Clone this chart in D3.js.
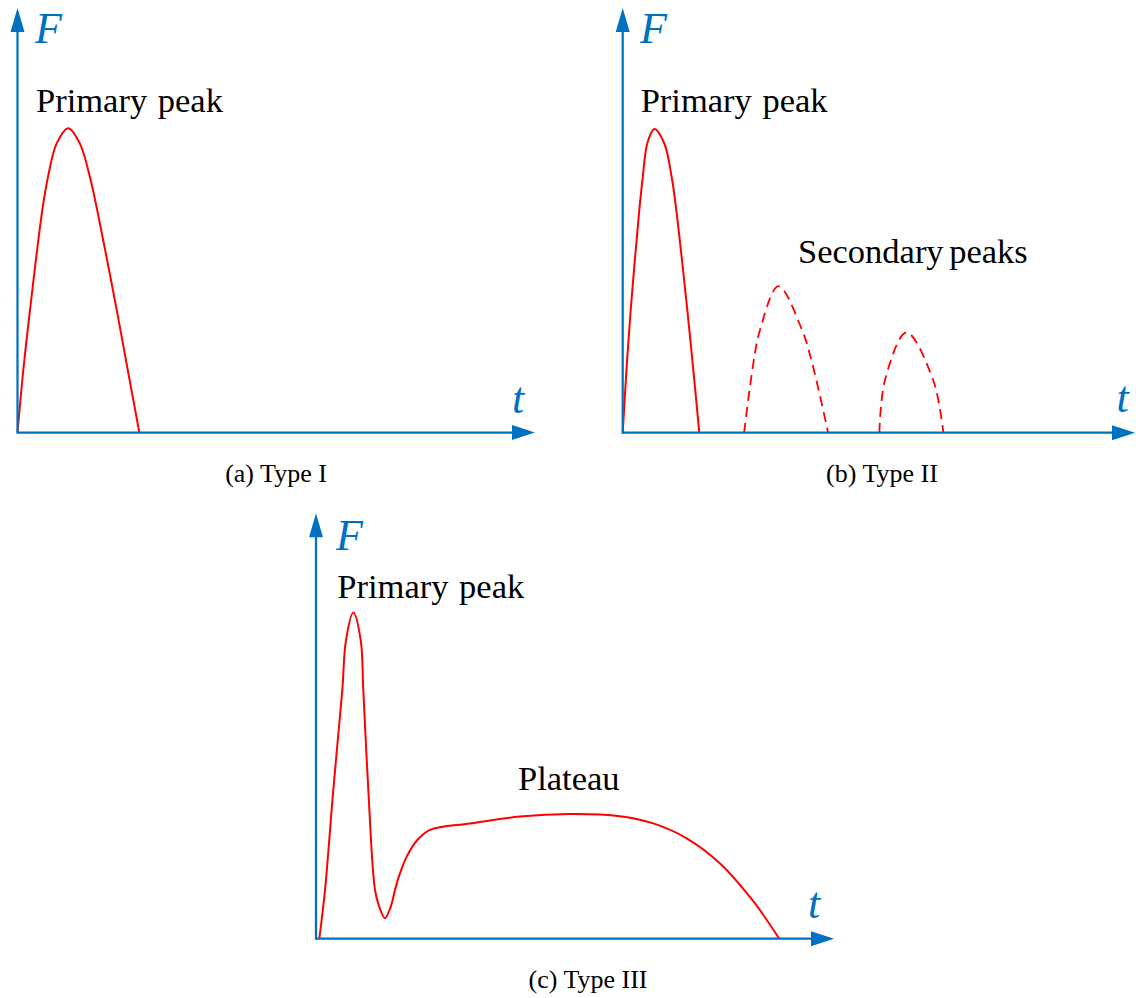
<!DOCTYPE html>
<html>
<head>
<meta charset="utf-8">
<script src="https://cdn.jsdelivr.net/npm/d3@7"></script>
<style>
  body { margin: 0; background: #fff; }
  svg { display: block; }
</style>
</head>
<body>
<div id="chart"></div>
<script>
// normalised time / force values (0-100 along each axis)
var typeI_t = [0, 1.12, 2.42, 4.79, 5.89, 7.57, 9.82, 12.04, 13.99, 15.40, 19.17, 21.31, 23.54];
var typeI_F = [0, 14.7, 28.9, 52.4, 60.2, 68.1, 71.7, 68.1, 60.2, 52.4, 28.9, 14.7, 0];

var typeII_t = [0, 0.74, 1.56, 3.24, 3.92, 4.80, 6.17, 8.12, 9.56, 10.46, 12.61, 13.78, 14.95];
var typeII_F = [0, 14.8, 28.9, 52.4, 60.2, 68.1, 71.5, 68.1, 60.2, 52.4, 28.9, 14.8, 0];

var second1_t = [23.7, 25.5, 26.8, 30.4, 35.0, 37.0, 40.1];
var second1_F = [0, 16.3, 24.2, 34.5, 24.2, 16.3, 0];

var second2_t = [50.1, 51.2, 55.4, 60.6, 62.6];
var second2_F = [0, 12.4, 23.6, 12.4, 0];

var typeIII_t = [0.64, 1.74, 3.34, 5.08, 5.79, 7.20, 8.63, 9.13, 10.10, 11.39, 12.22, 13.32, 14.42, 15.25,
                 16.22, 17.51, 19.56, 22.01, 29.73, 39.38, 49.03, 58.69, 65.12, 71.56, 78.0, 84.23, 89.44];
var typeIII_F = [0, 11.45, 35.0, 58.5, 70.2, 76.7, 70.2, 58.5, 35.0, 11.45, 7.5, 4.8, 7.5, 11.45,
                 15.4, 19.3, 23.2, 25.6, 27.1, 28.7, 29.3, 28.8, 27.1, 23.6, 17.7, 9.1, 0];

var axisLabels = ["F", "t"];
var captions = ["(a) Type I", "(b) Type II", "(c) Type III"];
var notes = ["Primary peak", "Secondary peaks", "Plateau"];

var zip = function(ts, fs){ return ts.map(function(t, i){ return [t, fs[i]]; }); };

// panel layout (pixels)
var panels = [
  { ox: 17.5, oy: 432.5, lenX: 517.5, lenY: 424.5,
    curves: [{ pts: zip(typeI_t, typeI_F), dashed: false }],
    F: [35, 43], t: [512, 412.5], cap: [276, 482], caption: captions[0],
    notes: [{ text: notes[0], x: 36, y: 112 }] },
  { ox: 622.7, oy: 432.7, lenX: 512.3, lenY: 424.7,
    curves: [{ pts: zip(typeII_t, typeII_F), dashed: false },
             { pts: zip(second1_t, second1_F), dashed: true },
             { pts: zip(second2_t, second2_F), dashed: true }],
    F: [640, 43], t: [1116.5, 412], cap: [882, 482], caption: captions[1],
    notes: [{ text: notes[0], x: 640.7, y: 112 }, { text: notes[1], x: 798, y: 263, tight: true }] },
  { ox: 316, oy: 938.7, lenX: 518, lenY: 425.4,
    curves: [{ pts: zip(typeIII_t, typeIII_F), dashed: false }],
    F: [336, 550], t: [808, 918], cap: [588, 988], caption: captions[2],
    notes: [{ text: notes[0], x: 337.3, y: 598 }, { text: notes[2], x: 518, y: 790 }] }
];

var blue = "#0070C0";
var red = "#FF0000";
var serif = "'Liberation Serif', 'Times New Roman', serif";

var svg = d3.select("#chart").append("svg")
  .attr("width", 1136)
  .attr("height", 998);

panels.forEach(function(p){
  var x = d3.scaleLinear().domain([0, 100]).range([p.ox, p.ox + p.lenX]);
  var y = d3.scaleLinear().domain([0, 100]).range([p.oy, p.oy - p.lenY]);
  var g = svg.append("g");

  var line = d3.line()
    .x(function(d){ return x(d[0]); })
    .y(function(d){ return y(d[1]); })
    .curve(d3.curveCatmullRom.alpha(0.5));

  p.curves.forEach(function(c){
    g.append("path")
      .attr("d", line(c.pts))
      .attr("fill", "none")
      .attr("stroke", red)
      .attr("stroke-width", c.dashed ? 1.8 : 2)
      .attr("stroke-dasharray", c.dashed ? "10,6" : null);
  });

  // axes with arrow heads
  var xTip = x(100), yTip = y(100);
  g.append("line")
    .attr("x1", p.ox).attr("y1", p.oy)
    .attr("x2", xTip - 20).attr("y2", p.oy)
    .attr("stroke", blue).attr("stroke-width", 2.25);
  g.append("line")
    .attr("x1", p.ox).attr("y1", p.oy + 1)
    .attr("x2", p.ox).attr("y2", yTip + 20)
    .attr("stroke", blue).attr("stroke-width", 2.25);
  g.append("path")
    .attr("d", "M" + xTip + "," + p.oy + "L" + (xTip - 23) + "," + (p.oy - 7.5) + "L" + (xTip - 23) + "," + (p.oy + 7.5) + "Z")
    .attr("fill", blue);
  g.append("path")
    .attr("d", "M" + p.ox + "," + yTip + "L" + (p.ox - 7) + "," + (yTip + 24) + "L" + (p.ox + 7) + "," + (yTip + 24) + "Z")
    .attr("fill", blue);

  g.append("text")
    .attr("x", p.F[0]).attr("y", p.F[1])
    .attr("font-family", serif).attr("font-style", "italic").attr("font-size", 44)
    .attr("fill", blue)
    .text(axisLabels[0]);
  g.append("text")
    .attr("x", p.t[0]).attr("y", p.t[1])
    .attr("font-family", serif).attr("font-style", "italic").attr("font-size", 44)
    .attr("fill", blue)
    .text(axisLabels[1]);

  p.notes.forEach(function(n){
    g.append("text")
      .attr("x", n.x).attr("y", n.y)
      .attr("font-family", serif).attr("font-size", 34.5)
      .attr("word-spacing", n.tight ? -3 : 2)
      .attr("fill", "#000")
      .text(n.text);
  });

  g.append("text")
    .attr("x", p.cap[0]).attr("y", p.cap[1])
    .attr("text-anchor", "middle")
    .attr("font-family", serif).attr("font-size", 26)
    .attr("fill", "#000")
    .text(p.caption);
});
</script>
</body>
</html>
